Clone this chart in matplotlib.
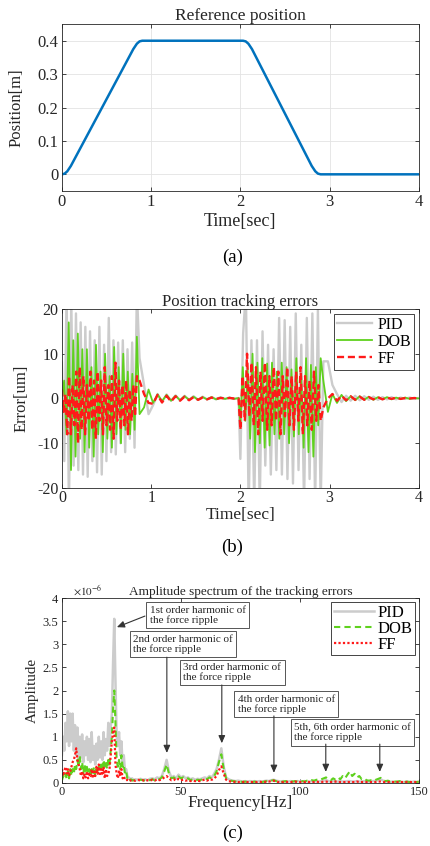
import numpy as np
import matplotlib
matplotlib.use('Agg')
import matplotlib.pyplot as plt

plt.rcParams['font.family'] = ['Liberation Serif', 'DejaVu Serif']
plt.rcParams['mathtext.fontset'] = 'stix'
plt.rcParams['axes.unicode_minus'] = False

# ---------------- (a) reference position ----------------
ref_t = [0, 0.03, 0.06, 0.1, 0.8, 0.84, 0.87, 0.9, 2.03, 2.06, 2.09, 2.13, 2.8, 2.84, 2.87, 2.9, 4.0]
ref_pos = [0, 0.002, 0.009, 0.025, 0.375, 0.391, 0.398, 0.4, 0.4, 0.398, 0.391, 0.375, 0.025, 0.009, 0.002, 0, 0]

# ---------------- (b) tracking errors [um] ----------------
# each series: motion 1 (0-0.84 s), settling (0.87-1.98 s), motion 2 (2.0-2.9 s), settling (2.93-4.0 s)
pid_seg1 = [8, -14, 24, -25, 22, -15, 19, -16, 17, -17, 16, -17.5, 15, -14, 13, -16.5, 16,
            -17, 12, -14, 18, -12, 13, -12.5, 12.5, -10, 13, -12, 11, -9, 12.5, -11, 24]
pid_rest1 = [9, 3, -3.5, -1.5, 1, -0.8, 0.9, -0.5, 0.7, -0.4, 0.6, -0.3, 0.5, -0.3, 0.4,
             -0.2, 0.3, -0.2, 0.3, -0.1, 0.2, -0.1, 0.1]
pid_seg2 = [-13.5, 14.5, 24, -25, 13, -24, 13, -24, 15, -15, 12, -17, 11, -16, 18, -17, 17.5,
            -18, 16, -19, 19, -16, 12, -24, 18, -18, 19, -24, 20, -24]
pid_rest2 = [8.3, 8.3, 3, 1, -0.8, 0.6, -0.5, 0.6, -0.4, 0.5, -0.3, 0.4, -0.3, 0.3, -0.2,
             0.3, -0.2, 0.2, -0.1, 0.2, -0.1, 0.1]

dob_seg1 = [0, 4, -8, 17, -16, 13, -13, 14.5, -9, 11, -12, 11, -11, 7, -13, 12, -8, 6, -12,
            10, -9, 5, -11, 11.5, -8, 7, -10, 10, -7, 6, -8, 5.5, -7, 13.8]
dob_rest1 = [-3.5, -2, 2, -1, 0.9, -0.6, 0.8, -0.5, 0.6, -0.4, 0.5, -0.3, 0.4, -0.3, 0.3,
             -0.2, 0.3, -0.2, 0.2, -0.1, 0.2, -0.1, 0.1]
dob_seg2 = [-6, 7, -5, 6.5, -9, 10, -12, 8, -10, 9, -11, 7.8, -10.5, 8, -8, 6, -9, 8, -8, 7,
            -10, 6.5, -8.5, 9, -8, 5, -11, 9, -12, 7.5, -13, 7, -6, 9]
dob_rest2 = [4, -3, 1, -1, 0.8, -0.6, 0.5, -0.4, 0.5, -0.3, 0.4, -0.3, 0.3, -0.2, 0.3, -0.2,
             0.2, -0.1, 0.2, -0.1, 0.1, 0]

ff_seg1 = [2, -3, 1, -8, 5, -8, 3, -6, 6, -10, 7, -7, 5, -8, 3, -5, 6, -7, 4, -9, 6, -5, 4,
           -8, 7, -6, 3, -7, 5, -9, 8, -5, 4, -7, 3, -6, 4, -8, 2, -5, 3, -4, 5]
ff_rest1 = [4, 1, -1, -1.2, 0.8, -0.9, 0.6, -0.7, 0.5, -0.5, 0.4, -0.4, 0.3, -0.3, 0.2,
            -0.2, 0.2, -0.1, 0.1, 0, 0.1, 0, 0]
ff_seg2 = [-7, 5, -5, 10, -4, 8, -6, 7, -8, 6, -5, 8, -7, 5, -6, 7, -5, 6, -8, 5, -4, 7, -6,
           5, -7, 6, -5, 7, -8, 5, -6, 4, -7, 6, -5, 3, -5]
ff_rest2 = [-2, 0, 1, -0.5, 0.6, -0.4, 0.5, -0.3, 0.4, -0.3, 0.3, -0.2, 0.3, -0.2, 0.2,
            -0.1, 0.2, -0.1, 0.1, 0, 0.1, 0]

seg_spans = [(0.0, 0.84), (0.87, 1.98), (2.0, 2.9), (2.93, 4.0)]

# ---------------- (c) amplitude spectrum [x1e-6] ----------------
# 0 - 30 Hz every 0.5 Hz
pid_low = [0.6, 1.0, 0.7, 1.3, 0.9, 1.55, 0.8, 1.5, 0.9, 1.5,
           0.7, 1.25, 0.6, 1.2, 0.5, 1.0, 0.55, 1.05, 0.45, 0.9,
           0.6, 1.0, 0.5, 0.95, 0.45, 1.1, 0.5, 0.8, 0.4, 0.85,
           0.5, 1.0, 0.55, 0.9, 0.5, 1.1, 0.6, 0.95, 0.7, 1.3,
           0.8, 1.2, 1.5, 2.6, 3.55, 2.2, 1.0, 0.8, 1.1, 0.6,
           0.9, 0.4, 0.6, 0.25, 0.3, 0.15, 0.12, 0.1, 0.08, 0.1,
           0.07]
dob_low = [0.05, 0.15, 0.1, 0.2, 0.08, 0.25, 0.1, 0.3, 0.15, 0.3,
           0.2, 0.4, 0.3, 0.5, 0.35, 0.6, 0.3, 0.45, 0.2, 0.4,
           0.25, 0.35, 0.2, 0.3, 0.15, 0.3, 0.2, 0.35, 0.15, 0.3,
           0.2, 0.35, 0.25, 0.4, 0.3, 0.5, 0.35, 0.45, 0.3, 0.5,
           0.4, 0.7, 1.0, 1.6, 2.0, 1.3, 0.5, 0.35, 0.5, 0.3,
           0.6, 0.35, 0.4, 0.2, 0.25, 0.1, 0.12, 0.06, 0.08, 0.05,
           0.06]
ff_low = [0.3, 0.15, 0.25, 0.35, 0.2, 0.3, 0.15, 0.25, 0.35, 0.45,
          0.5, 0.6, 0.75, 0.5, 0.4, 0.3, 0.15, 0.25, 0.1, 0.2,
          0.12, 0.25, 0.1, 0.2, 0.15, 0.3, 0.1, 0.25, 0.15, 0.35,
          0.2, 0.4, 0.15, 0.3, 0.2, 0.35, 0.1, 0.3, 0.15, 0.2,
          0.3, 0.6, 0.9, 1.1, 1.2, 0.4, 0.2, 0.1, 0.25, 0.15,
          0.3, 0.1, 0.15, 0.08, 0.05, 0.07, 0.04, 0.06, 0.05, 0.04,
          0.05]
# 31 - 150 Hz every 1 Hz
pid_high = [0.08, 0.06, 0.09, 0.07, 0.08, 0.06, 0.09, 0.1, 0.08, 0.12,
            0.1, 0.15, 0.3, 0.5, 0.25, 0.12, 0.15, 0.1, 0.18, 0.12,
            0.15, 0.1, 0.12, 0.08, 0.1, 0.07, 0.09, 0.08, 0.1, 0.12,
            0.1, 0.15, 0.12, 0.2, 0.3, 0.5, 0.75, 0.35, 0.12, 0.08,
            0.06, 0.05, 0.04, 0.05, 0.04, 0.03, 0.04, 0.03, 0.04, 0.03,
            0.04, 0.03, 0.04, 0.03, 0.04, 0.05, 0.04, 0.06, 0.07, 0.05,
            0.04, 0.03, 0.04, 0.03, 0.03, 0.04, 0.03, 0.03, 0.04, 0.03,
            0.03, 0.04, 0.03, 0.03, 0.04, 0.03, 0.04, 0.03, 0.04, 0.05,
            0.06, 0.04, 0.03, 0.04, 0.03, 0.03, 0.04, 0.03, 0.03, 0.04,
            0.04, 0.03, 0.03, 0.04, 0.03, 0.03, 0.04, 0.03, 0.03, 0.04,
            0.04, 0.05, 0.06, 0.08, 0.05, 0.03, 0.03, 0.02, 0.03, 0.02,
            0.02, 0.03, 0.02, 0.02, 0.03, 0.02, 0.02, 0.03, 0.02, 0.02]
dob_high = [0.06, 0.05, 0.07, 0.06, 0.05, 0.07, 0.06, 0.08, 0.06, 0.1,
            0.08, 0.12, 0.25, 0.4, 0.2, 0.1, 0.12, 0.08, 0.14, 0.1,
            0.12, 0.08, 0.1, 0.06, 0.08, 0.05, 0.07, 0.06, 0.08, 0.1,
            0.08, 0.12, 0.1, 0.15, 0.25, 0.45, 0.62, 0.3, 0.1, 0.06,
            0.05, 0.04, 0.03, 0.04, 0.03, 0.02, 0.03, 0.02, 0.03, 0.02,
            0.03, 0.02, 0.03, 0.02, 0.03, 0.04, 0.03, 0.05, 0.06, 0.04,
            0.03, 0.02, 0.03, 0.04, 0.03, 0.05, 0.03, 0.04, 0.03, 0.05,
            0.04, 0.03, 0.05, 0.04, 0.06, 0.05, 0.07, 0.06, 0.08, 0.1,
            0.12, 0.08, 0.06, 0.1, 0.07, 0.12, 0.08, 0.15, 0.1, 0.18,
            0.25, 0.15, 0.2, 0.12, 0.15, 0.08, 0.1, 0.06, 0.05, 0.06,
            0.05, 0.07, 0.09, 0.11, 0.06, 0.04, 0.05, 0.03, 0.04, 0.03,
            0.03, 0.04, 0.03, 0.02, 0.03, 0.02, 0.03, 0.02, 0.02, 0.03]
ff_high = [0.05, 0.07, 0.05, 0.06, 0.04, 0.06, 0.05, 0.07, 0.05, 0.08,
           0.06, 0.08, 0.12, 0.15, 0.1, 0.06, 0.08, 0.05, 0.09, 0.06,
           0.07, 0.05, 0.06, 0.04, 0.05, 0.04, 0.05, 0.04, 0.06, 0.07,
           0.05, 0.08, 0.07, 0.1, 0.15, 0.28, 0.36, 0.2, 0.07, 0.04,
           0.03, 0.02, 0.03, 0.02, 0.02, 0.02, 0.03, 0.02, 0.02, 0.02,
           0.02, 0.02, 0.03, 0.02, 0.02, 0.03, 0.03, 0.04, 0.05, 0.03,
           0.02, 0.02, 0.02, 0.03, 0.02, 0.02, 0.02, 0.03, 0.02, 0.02,
           0.02, 0.02, 0.03, 0.02, 0.02, 0.02, 0.03, 0.02, 0.02, 0.03,
           0.03, 0.02, 0.02, 0.02, 0.03, 0.02, 0.02, 0.02, 0.02, 0.02,
           0.02, 0.02, 0.02, 0.03, 0.02, 0.02, 0.02, 0.02, 0.02, 0.02,
           0.02, 0.02, 0.03, 0.03, 0.02, 0.02, 0.02, 0.02, 0.02, 0.02,
           0.02, 0.02, 0.02, 0.02, 0.02, 0.02, 0.02, 0.02, 0.02, 0.02]
freq_low = np.arange(0, 30.25, 0.5)
freq_high = np.arange(31, 151, 1)

harmonics = [
    ("1st order harmonic of\nthe force ripple", (57.1, 3.63), [((34.9, 3.61), (23.1, 3.37))]),
    ("2nd order harmonic of\nthe force ripple", (51.0, 3.0), [((44.1, 2.72), (44.1, 0.65))]),
    ("3rd order harmonic of\nthe force ripple", (71.6, 2.39), [((67.2, 2.12), (67.2, 0.86))]),
    ("4th order harmonic of\nthe force ripple", (94.3, 1.70), [((89.1, 1.45), (89.1, 0.22))]),
    ("5th, 6th order harmonic of\nthe force ripple", (122.1, 1.09),
     [((110.9, 0.84), (110.9, 0.24)), ((133.6, 0.84), (133.6, 0.24))]),
]

C_PID = '#cccccc'
C_DOB = '#5fd11e'
C_FF = '#ff1a1a'
C_AX = '#262626'


def style_axes(ax, fs):
    ax.tick_params(direction='in', top=True, right=True, labelsize=fs, colors=C_AX,
                   length=3, width=0.6, pad=2.5)
    for s in ax.spines.values():
        s.set_color(C_AX)
        s.set_linewidth(0.6)


def build(spans, pieces):
    t, v = [], []
    for (a, b), p in zip(spans, pieces):
        t.append(np.linspace(a, b, len(p)))
        v.append(np.array(p, dtype=float))
    return np.concatenate(t), np.concatenate(v)


fig = plt.figure(figsize=(4.3, 8.46), dpi=100)

# (a)
ax1 = fig.add_axes([0.144, 0.7742, 0.830, 0.1974])
ax1.plot(ref_t, ref_pos, color='#0072bd', lw=1.8)
ax1.set_xlim(0, 4)
ax1.set_ylim(-0.05, 0.45)
ax1.set_xticks([0, 1, 2, 3, 4])
ax1.set_yticks([0, 0.1, 0.2, 0.3, 0.4])
ax1.set_yticklabels(['0', '0.1', '0.2', '0.3', '0.4'])
ax1.grid(True, color='#e3e3e3', lw=0.6)
ax1.set_axisbelow(True)
style_axes(ax1, 12)
ax1.set_title('Reference position', fontsize=12.5, color=C_AX, pad=3)
ax1.set_xlabel('Time[sec]', fontsize=13, color=C_AX)
ax1.xaxis.set_label_coords(0.5, -0.18)
ax1.xaxis.label.set_va('center')
ax1.set_ylabel('Position[m]', fontsize=12, color=C_AX)
ax1.yaxis.set_label_coords(-0.126, 0.5)
ax1.yaxis.label.set_va('center')
fig.text(0.54, 0.696, '(a)', fontsize=13.5, ha='center', va='center')

# (b)
ax2 = fig.add_axes([0.144, 0.4232, 0.830, 0.2116])
t_pid, e_pid = build(seg_spans, [pid_seg1, pid_rest1, pid_seg2, pid_rest2])
t_dob, e_dob = build(seg_spans, [dob_seg1, dob_rest1, dob_seg2, dob_rest2])
t_ff, e_ff = build(seg_spans, [ff_seg1, ff_rest1, ff_seg2, ff_rest2])
ax2.plot(t_pid, e_pid, color=C_PID, lw=1.7, label='PID')
ax2.plot(t_dob, e_dob, color=C_DOB, lw=1.3, label='DOB')
ax2.plot(t_ff, e_ff, color=C_FF, lw=1.7, ls=(0, (3, 1.6)), label='FF')
ax2.set_xlim(0, 4)
ax2.set_ylim(-20, 20)
ax2.set_xticks([0, 1, 2, 3, 4])
ax2.set_yticks([-20, -10, 0, 10, 20])
style_axes(ax2, 11.5)
ax2.tick_params(axis='x', pad=1.5)
ax2.set_title('Position tracking errors', fontsize=12, color=C_AX, pad=2)
ax2.set_xlabel('Time[sec]', fontsize=12.5, color=C_AX)
ax2.xaxis.set_label_coords(0.5, -0.152)
ax2.xaxis.label.set_va('center')
ax2.set_ylabel('Error[um]', fontsize=12, color=C_AX)
ax2.yaxis.set_label_coords(-0.112, 0.5)
ax2.yaxis.label.set_va('center')
leg = ax2.legend(loc='upper right', fontsize=11.5, handlelength=2.2, borderpad=0.2,
                 labelspacing=0.05, handletextpad=0.3, borderaxespad=0.3, fancybox=False,
                 edgecolor=C_AX, framealpha=1)
leg.get_frame().set_linewidth(0.6)
fig.text(0.54, 0.353, '(b)', fontsize=13.5, ha='center', va='center')

# (c)
ax3 = fig.add_axes([0.144, 0.0745, 0.830, 0.2186])
f_all = np.concatenate([freq_low, freq_high])
ax3.plot(f_all, pid_low + pid_high, color=C_PID, lw=1.8, label='PID')
ax3.plot(f_all, dob_low + dob_high, color=C_DOB, lw=1.5, ls=(0, (3, 2)), label='DOB')
ax3.plot(f_all, ff_low + ff_high, color=C_FF, lw=1.6, ls=(0, (1, 1)), label='FF')
ax3.set_xlim(0, 150)
ax3.set_ylim(0, 4)
ax3.set_xticks([0, 50, 100, 150])
ax3.set_yticks([0, 0.5, 1, 1.5, 2, 2.5, 3, 3.5, 4])
ax3.set_yticklabels(['0', '0.5', '1', '1.5', '2', '2.5', '3', '3.5', '4'])
style_axes(ax3, 9)
ax3.text(0.03, 1.0, r'$\times10^{-6}$', transform=ax3.transAxes, fontsize=8, color=C_AX,
         ha='left', va='bottom')
ax3.set_title('Amplitude spectrum of the tracking errors', fontsize=9.5, color=C_AX, pad=2)
ax3.set_xlabel('Frequency[Hz]', fontsize=12.5, color=C_AX)
ax3.xaxis.set_label_coords(0.5, -0.108)
ax3.xaxis.label.set_va('center')
ax3.set_ylabel('Amplitude', fontsize=11, color=C_AX)
ax3.yaxis.set_label_coords(-0.084, 0.5)
ax3.yaxis.label.set_va('center')
leg3 = ax3.legend(loc='upper right', fontsize=12, handlelength=2.4, borderpad=0.15,
                  labelspacing=0.0, handletextpad=0.2, borderaxespad=0.25, fancybox=False,
                  edgecolor=C_AX, framealpha=1)
leg3.get_frame().set_linewidth(0.6)

for txt, (bx, by), arrows in harmonics:
    ax3.text(bx, by, txt, fontsize=8, ha='center', va='center', multialignment='left',
             color=C_AX, linespacing=1.05,
             bbox=dict(boxstyle='square,pad=0.3', fc='white', ec='#555555', lw=0.7))
    for start, end in arrows:
        ax3.annotate('', xy=end, xytext=start,
                     arrowprops=dict(arrowstyle='-|>,head_length=0.45,head_width=0.2',
                                     color='#333333', lw=0.8, shrinkA=0, shrinkB=0))
fig.text(0.54, 0.0154, '(c)', fontsize=13.5, ha='center', va='center')

fig.savefig('out.png', dpi=100)
